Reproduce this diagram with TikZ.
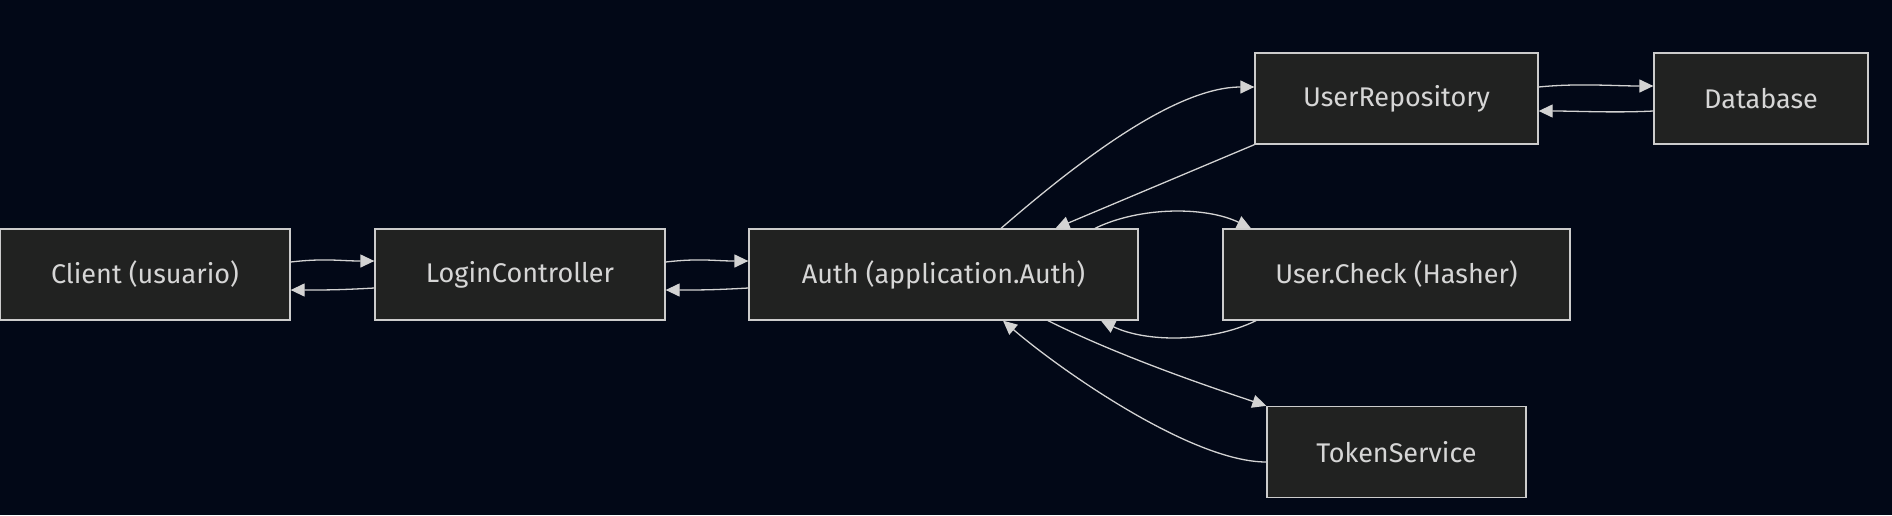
\documentclass[tikz,border=0pt]{standalone}
\usepackage{fontspec}
\setmainfont{Fira Sans}
\usetikzlibrary{arrows.meta,calc}
\definecolor{bgc}{RGB}{2,8,23}
\definecolor{nodefill}{RGB}{33,34,33}
\definecolor{nodeline}{RGB}{204,204,204}
\definecolor{txt}{RGB}{214,214,214}
\definecolor{edgec}{RGB}{211,211,211}
\newcommand{\lbl}[1]{\raisebox{-2.5pt}{#1}}
\begin{document}
\begin{tikzpicture}[x=1pt,y=-1pt,
  box/.style={draw=nodeline,fill=nodefill,line width=1.3pt,rectangle,inner sep=0pt,
    minimum height=91pt,text=txt,font=\fontsize{27}{32}\selectfont},
  edge/.style={draw=edgec,line width=1.3pt,-{Triangle[length=14pt,width=13pt]}}]
\fill[bgc] (0,0) rectangle (1892,515);
\useasboundingbox (0,0) rectangle (1892,515);
\node[box,minimum width=290pt] (client) at (145,274.5) {\lbl{Client (usuario)}};
\node[box,minimum width=290pt] (login) at (520,274.5) {\lbl{LoginController}};
\node[box,minimum width=389pt] (auth) at (943.5,274.5) {\lbl{Auth (application.Auth)}};
\node[box,minimum width=283pt] (repo) at (1396.5,98.5) {\lbl{UserRepository}};
\node[box,minimum width=214pt] (db) at (1761,98.5) {\lbl{Database}};
\node[box,minimum width=347pt] (check) at (1396.5,274.5) {\lbl{User.Check (Hasher)}};
\node[box,minimum width=259pt] (token) at (1396.5,452) {\lbl{TokenService}};
% Client <-> Login
\draw[edge] ($(client.east)+(0,-12.5)$) .. controls +(35,-4) and +(-35,0) .. ($(login.west)+(0,-13.5)$);
\draw[edge] ($(login.west)+(0,13.5)$) .. controls +(-35,2) and +(35,0) .. ($(client.east)+(0,15.5)$);
% Login <-> Auth
\draw[edge] ($(login.east)+(0,-12.5)$) .. controls +(35,-4) and +(-35,0) .. ($(auth.west)+(0,-13.5)$);
\draw[edge] ($(auth.west)+(0,13.5)$) .. controls +(-35,2) and +(35,0) .. ($(login.east)+(0,15.5)$);
% Auth <-> Repo
\draw[edge] ($(auth.north)+(57.5,0)$) .. controls +(75,-65) and +(-80,0) .. ($(repo.west)+(0,-11.5)$);
\draw[edge] (repo.south west) -- ($(auth.north)+(112,0)$);
% Auth <-> Check
\draw[edge] ($(auth.north)+(151.5,0)$) .. controls +(45,-22) and +(-45,-22) .. ($(check.north)+(-145.5,0)$);
\draw[edge] ($(check.south)+(-140.5,0)$) .. controls +(-45,22) and +(45,22) .. ($(auth.south)+(157.5,0)$);
% Auth <-> Token
\draw[edge] ($(auth.south)+(104.5,0)$) .. controls +(70,35) and +(-60,-20) .. (token.north west);
\draw[edge] ($(token.west)+(0,10)$) .. controls +(-75,0) and +(57,49) .. ($(auth.south)+(59.5,0)$);
% Repo <-> DB
\draw[edge] ($(repo.east)+(0,-11.5)$) .. controls +(40,-4) and +(-40,0) .. ($(db.west)+(0,-12.5)$);
\draw[edge] ($(db.west)+(0,12.5)$) .. controls +(-40,2) and +(40,0) .. ($(repo.east)+(0,12.5)$);
\end{tikzpicture}
\end{document}
